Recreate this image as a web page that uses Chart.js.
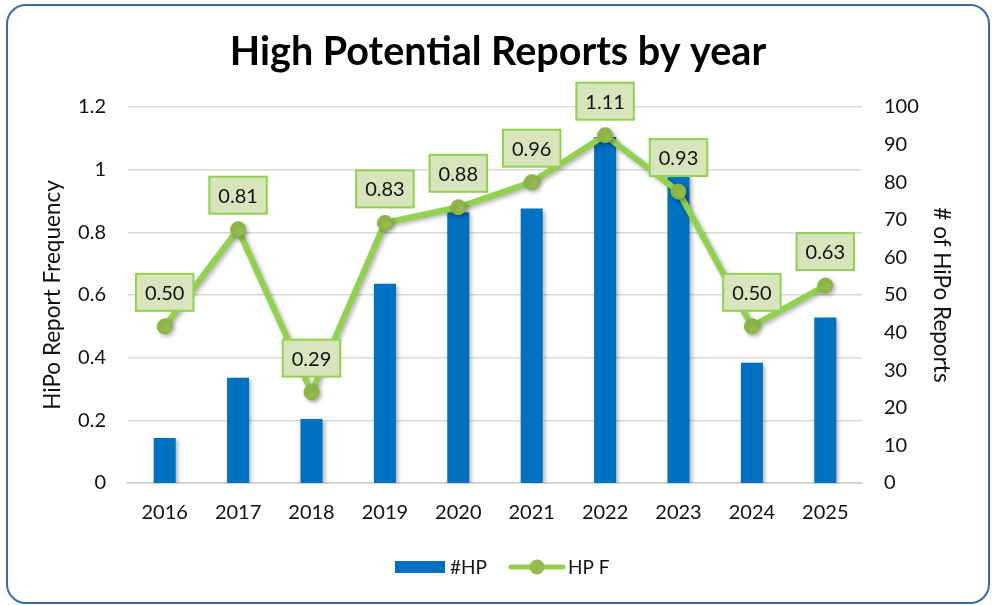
<!DOCTYPE html>
<html>
<head>
<meta charset="utf-8">
<script src="https://cdn.jsdelivr.net/npm/chart.js@4.4.1/dist/chart.umd.min.js"></script>
<style>
  html, body { margin: 0; padding: 0; background: #ffffff; }
  #wrap { position: relative; width: 992px; height: 605px; overflow: hidden; }
  #frame { position: absolute; left: 6px; top: 4px; width: 980px; height: 596px;
           border: 2px solid #3f6aa3; border-radius: 20px; pointer-events: none; }
  canvas { position: absolute; left: 0; top: 0; }
</style>
</head>
<body>
<div id="wrap">
  <canvas id="c" width="992" height="605"></canvas>
  <div id="frame"></div>
</div>
<script>
const titleText = 'High Potential Reports by year';
const years = ['2016', '2017', '2018', '2019', '2020', '2021', '2022', '2023', '2024', '2025'];
const hpCounts = [12, 28, 17, 53, 72, 73, 92, 82, 32, 44];
const hpFreq = [0.50, 0.81, 0.29, 0.83, 0.88, 0.96, 1.11, 0.93, 0.50, 0.63];
const leftTicks = ['0', '0.2', '0.4', '0.6', '0.8', '1', '1.2'];
const rightTicks = ['0', '10', '20', '30', '40', '50', '60', '70', '80', '90', '100'];
const seriesNames = ['#HP', 'HP F'];
const leftTitle = 'HiPo Report Frequency';
const rightTitle = '# of HiPo Reports';

const FONT = 'Lato, "Open Sans", sans-serif';
const BLUE = '#0070c0';
const GREEN = '#92d050';
const POINT = '#94bb4c';

const shadowPlugin = {
  id: 'shadows',
  beforeDatasetDraw(chart, args) {
    const ctx = chart.ctx;
    ctx.save();
    ctx.shadowColor = 'rgba(0,0,0,0.30)';
    ctx.shadowBlur = 4;
    ctx.shadowOffsetX = 2;
    ctx.shadowOffsetY = 2;
  },
  afterDatasetDraw(chart, args) {
    chart.ctx.restore();
  }
};

const decorPlugin = {
  id: 'decor',
  afterDatasetsDraw(chart) {
    const ctx = chart.ctx;
    const meta = chart.getDatasetMeta(1);
    ctx.save();
    ctx.font = '20px ' + FONT;
    ctx.textAlign = 'center';
    ctx.textBaseline = 'middle';
    meta.data.forEach((pt, i) => {
      const txt = hpFreq[i].toFixed(2);
      const w = ctx.measureText(txt).width + 18;
      const h = 37;
      const cx = pt.x, cy = pt.y - 34;
      ctx.fillStyle = '#d8e4bc';
      ctx.fillRect(cx - w / 2, cy - h / 2, w, h);
      ctx.lineWidth = 2;
      ctx.strokeStyle = GREEN;
      ctx.strokeRect(cx - w / 2, cy - h / 2, w, h);
      ctx.fillStyle = '#111111';
      ctx.fillText(txt, cx, cy + 1);
    });
    ctx.restore();
  },
  afterDraw(chart) {
    const ctx = chart.ctx;
    ctx.save();
    ctx.font = 'bold 39.5px ' + FONT;
    ctx.fillStyle = '#000000';
    ctx.textAlign = 'center';
    ctx.textBaseline = 'middle';
    ctx.fillText(titleText, 498, 52);
    const ly = 567;
    ctx.font = '19px ' + FONT;
    ctx.textAlign = 'left';
    ctx.fillStyle = BLUE;
    ctx.fillRect(395, ly - 6, 50, 12);
    ctx.fillStyle = '#111111';
    ctx.fillText(seriesNames[0], 450, ly + 1);
    ctx.strokeStyle = GREEN;
    ctx.lineWidth = 5;
    ctx.lineCap = 'round';
    ctx.beginPath();
    ctx.moveTo(511, ly);
    ctx.lineTo(563, ly);
    ctx.stroke();
    ctx.fillStyle = POINT;
    ctx.beginPath();
    ctx.arc(537, ly, 7.5, 0, Math.PI * 2);
    ctx.fill();
    ctx.fillStyle = '#111111';
    ctx.fillText(seriesNames[1], 568, ly + 1);
    ctx.restore();
  }
};

new Chart(document.getElementById('c'), {
  data: {
    labels: years,
    datasets: [
      {
        type: 'bar',
        label: seriesNames[0],
        data: hpCounts,
        yAxisID: 'y1',
        backgroundColor: BLUE,
        barPercentage: 0.3,
        categoryPercentage: 1.0,
        order: 2
      },
      {
        type: 'line',
        label: seriesNames[1],
        data: hpFreq,
        yAxisID: 'y',
        borderColor: GREEN,
        borderWidth: 6,
        pointRadius: 7.5,
        pointBackgroundColor: POINT,
        pointBorderColor: '#8ab444',
        pointBorderWidth: 1,
        tension: 0,
        order: 1
      }
    ]
  },
  options: {
    responsive: false,
    animation: false,
    events: [],
    layout: { padding: { top: 107, left: 10, right: 10, bottom: 80 } },
    plugins: {
      legend: { display: false },
      title: { display: false },
      tooltip: { enabled: false }
    },
    scales: {
      x: {
        grid: { display: false, drawTicks: false },
        border: { display: true, color: '#d6d6d6', width: 2 },
        ticks: { font: { family: FONT, size: 20 }, color: '#111111', padding: 18, maxRotation: 0 },
        afterFit(s) { s.height = 42; }
      },
      y: {
        position: 'left',
        min: 0, max: 1.2,
        grid: { color: '#d9d9d9', lineWidth: 1.5, drawTicks: false },
        border: { display: false },
        ticks: {
          stepSize: 0.2,
          font: { family: FONT, size: 20 }, color: '#111111', padding: 22,
          callback: (v, i) => leftTicks[i]
        },
        title: { display: true, text: leftTitle, font: { family: FONT, size: 22.5 }, color: '#111111', padding: { top: 29, bottom: 0 } },
        afterFit(s) { s.width = 118; }
      },
      y1: {
        position: 'right',
        min: 0, max: 100,
        grid: { display: false, drawTicks: false },
        border: { display: false },
        ticks: {
          stepSize: 10,
          font: { family: FONT, size: 20 }, color: '#111111', padding: 22,
          callback: (v, i) => rightTicks[i]
        },
        title: { display: true, text: rightTitle, font: { family: FONT, size: 22.5 }, color: '#111111', padding: { top: 27, bottom: 0 } },
        afterFit(s) { s.width = 120; }
      }
    }
  },
  plugins: [shadowPlugin, decorPlugin]
});
</script>
</body>
</html>
